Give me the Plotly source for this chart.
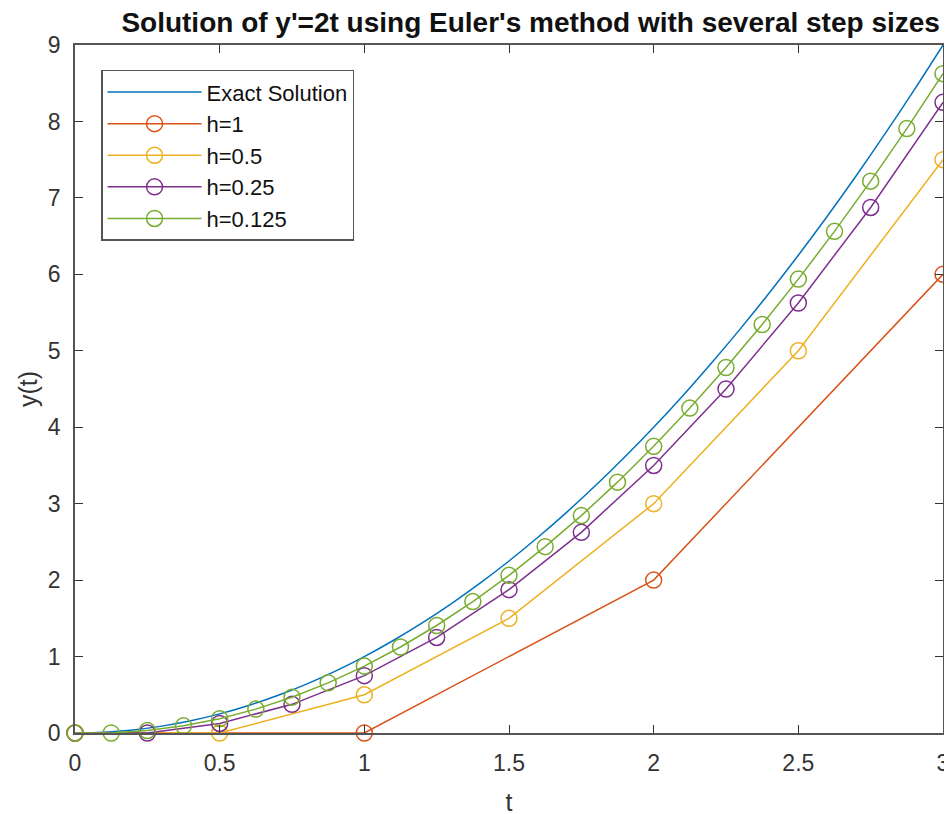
import plotly.graph_objects as go

# Exact solution y = t^2 (values listed)
t_exact = [0, 0.1, 0.2, 0.3, 0.4, 0.5, 0.6, 0.7, 0.8, 0.9, 1.0, 1.1, 1.2, 1.3, 1.4, 1.5,
           1.6, 1.7, 1.8, 1.9, 2.0, 2.1, 2.2, 2.3, 2.4, 2.5, 2.6, 2.7, 2.8, 2.9, 3.0]
y_exact = [0, 0.01, 0.04, 0.09, 0.16, 0.25, 0.36, 0.49, 0.64, 0.81, 1.0, 1.21, 1.44, 1.69,
           1.96, 2.25, 2.56, 2.89, 3.24, 3.61, 4.0, 4.41, 4.84, 5.29, 5.76, 6.25, 6.76,
           7.29, 7.84, 8.41, 9.0]

t_h1 = [0, 1, 2, 3]
y_h1 = [0, 0, 2, 6]

t_h05 = [0, 0.5, 1, 1.5, 2, 2.5, 3]
y_h05 = [0, 0, 0.5, 1.5, 3, 5, 7.5]

t_h025 = [0, 0.25, 0.5, 0.75, 1, 1.25, 1.5, 1.75, 2, 2.25, 2.5, 2.75, 3]
y_h025 = [0, 0, 0.125, 0.375, 0.75, 1.25, 1.875, 2.625, 3.5, 4.5, 5.625, 6.875, 8.25]

t_h0125 = [0, 0.125, 0.25, 0.375, 0.5, 0.625, 0.75, 0.875, 1, 1.125, 1.25, 1.375, 1.5,
           1.625, 1.75, 1.875, 2, 2.125, 2.25, 2.375, 2.5, 2.625, 2.75, 2.875, 3]
y_h0125 = [0, 0, 0.03125, 0.09375, 0.1875, 0.3125, 0.46875, 0.65625, 0.875, 1.125,
           1.40625, 1.71875, 2.0625, 2.4375, 2.84375, 3.28125, 3.75, 4.25, 4.78125,
           5.34375, 5.9375, 6.5625, 7.21875, 7.90625, 8.625]

x_ticks = [0, 0.5, 1, 1.5, 2, 2.5, 3]
x_tick_labels = ["0", "0.5", "1", "1.5", "2", "2.5", "3"]
y_ticks = [0, 1, 2, 3, 4, 5, 6, 7, 8, 9]

colors = ["#0072BD", "#D95319", "#EDB120", "#7E2F8E", "#77AC30"]
FONT = "Liberation Sans, Arial, sans-serif"

fig = go.Figure()
fig.add_trace(go.Scatter(x=t_exact, y=y_exact, mode="lines", name="Exact Solution",
                         line=dict(color=colors[0], width=1.5, shape="spline")))
series = [("h=1", t_h1, y_h1), ("h=0.5", t_h05, y_h05), ("h=0.25", t_h025, y_h025),
          ("h=0.125", t_h0125, y_h0125)]
for i, (nm, tx, ty) in enumerate(series):
    fig.add_trace(go.Scatter(x=tx, y=ty, mode="lines+markers", name=nm,
                             line=dict(color=colors[i + 1], width=1.5),
                             marker=dict(symbol="circle-open", size=16,
                                         color=colors[i + 1], line=dict(width=1.5)),
                             cliponaxis=False))

axis_common = dict(showgrid=False, zeroline=False, showline=True, mirror="allticks",
                   linecolor="#555555", linewidth=1.5, ticks="inside", ticklen=8,
                   tickwidth=1, tickcolor="#333333", automargin=False,
                   tickfont=dict(family=FONT, size=23, color="#333333"))

fig.update_layout(
    width=952, height=814,
    margin=dict(l=67, r=17, t=37, b=89),
    paper_bgcolor="white", plot_bgcolor="white",
    title=dict(text="<b>Solution of y'=2t using Euler's method with several step sizes</b>",
               x=0.549, xref="container", xanchor="center", y=0.983, yref="container",
               yanchor="middle",
               font=dict(family=FONT, size=28, color="#111111")),
    xaxis=dict(range=[0, 3], tickvals=x_ticks, ticktext=x_tick_labels,
               ticklabelstandoff=9,
               title=dict(text="t", font=dict(family=FONT, size=25, color="#333333"),
                          standoff=18),
               **axis_common),
    yaxis=dict(range=[0, 9], tickvals=y_ticks, ticklabelstandoff=8,
               title=dict(text="y(t)", font=dict(family=FONT, size=25, color="#333333"),
                          standoff=3),
               **axis_common),
    legend=dict(x=0.03, y=0.964, xanchor="left", yanchor="top",
                bgcolor="white", bordercolor="#555555", borderwidth=1.5,
                font=dict(family=FONT, size=22, color="#111111"),
                itemwidth=94),
    showlegend=True,
)

fig.write_html("out.html")
